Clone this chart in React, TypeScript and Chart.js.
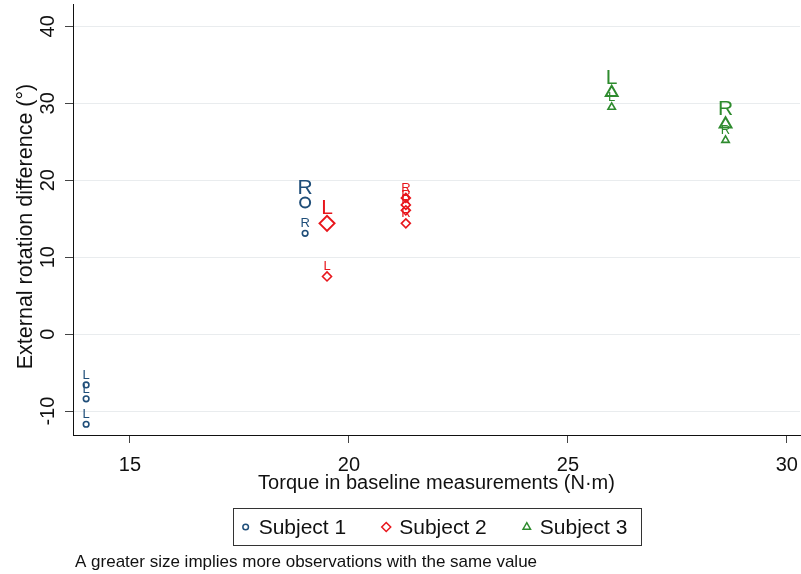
import React, { useEffect, useRef } from 'react';
import { Chart, registerables } from 'chart.js';

Chart.register(...registerables);

const seriesNames = ['Subject 1', 'Subject 2', 'Subject 3'];
const seriesColors = ['#1f4e79', '#e8161c', '#2e8b2e'];
const seriesShapes = ['circle', 'rectRot', 'triangle'];

const s1Torque = [14, 14, 14, 19, 19];
const s1Diff = [-6.6, -8.4, -11.7, 17.1, 13.1];
const s1Side = ['L', 'L', 'L', 'R', 'R'];
const s1Count = [1, 1, 1, 2, 1];

const s2Torque = [19.5, 19.5, 21.3, 21.3, 21.3, 21.3];
const s2Diff = [14.4, 7.5, 17.7, 16.8, 16.1, 14.4];
const s2Side = ['L', 'L', 'R', 'R', 'R', 'R'];
const s2Count = [2, 1, 1, 1, 1, 1];

const s3Torque = [26, 26, 28.6, 28.6];
const s3Diff = [31.4, 29.5, 27.3, 25.2];
const s3Side = ['L', 'L', 'R', 'R'];
const s3Count = [2, 1, 2, 1];

const xTicks = [15, 20, 25, 30];
const yTicks = [-10, 0, 10, 20, 30, 40];
const xTitle = 'Torque in baseline measurements (N·m)';
const yTitle = 'External rotation difference (°)';
const note = 'A greater size implies more observations with the same value';

const FONT = '"Liberation Sans", Arial, sans-serif';

const allTorque = [s1Torque, s2Torque, s3Torque];
const allDiff = [s1Diff, s2Diff, s3Diff];
const allSide = [s1Side, s2Side, s3Side];
const allCount = [s1Count, s2Count, s3Count];

const radii: Record<string, [number, number]> = {
  circle: [2.8, 5],
  rectRot: [4.5, 7.5],
  triangle: [4.3, 6.8],
};

function drawShape(ctx: CanvasRenderingContext2D, shape: string, x: number, y: number, r: number) {
  ctx.beginPath();
  if (shape === 'circle') {
    ctx.arc(x, y, r, 0, Math.PI * 2);
  } else if (shape === 'rectRot') {
    ctx.moveTo(x, y - r);
    ctx.lineTo(x + r, y);
    ctx.lineTo(x, y + r);
    ctx.lineTo(x - r, y);
    ctx.closePath();
  } else {
    const a = Math.PI / 6;
    ctx.moveTo(x, y - r);
    ctx.lineTo(x + r * Math.cos(a), y + r * Math.sin(a));
    ctx.lineTo(x - r * Math.cos(a), y + r * Math.sin(a));
    ctx.closePath();
  }
  ctx.stroke();
}

const markerLabelPlugin = {
  id: 'markerLabels',
  afterDatasetsDraw(chart: any) {
    const ctx = chart.ctx as CanvasRenderingContext2D;
    ctx.save();
    chart.data.datasets.forEach((_ds: any, i: number) => {
      const meta = chart.getDatasetMeta(i);
      meta.data.forEach((pt: any, j: number) => {
        const big = allCount[i][j] > 1;
        ctx.font = `${big ? 21 : 13}px ${FONT}`;
        ctx.fillStyle = seriesColors[i];
        ctx.textAlign = 'center';
        ctx.textBaseline = 'alphabetic';
        ctx.fillText(allSide[i][j], pt.x, pt.y - (big ? 9 : 6));
      });
    });
    ctx.restore();
  },
};

const yTitlePlugin = {
  id: 'yTitle',
  afterDraw(chart: any) {
    const ctx = chart.ctx as CanvasRenderingContext2D;
    const area = chart.chartArea;
    ctx.save();
    ctx.translate(26, (area.top + area.bottom) / 2 + 7);
    ctx.rotate(-Math.PI / 2);
    ctx.font = `21.5px ${FONT}`;
    ctx.fillStyle = '#111';
    ctx.textAlign = 'center';
    ctx.textBaseline = 'middle';
    ctx.fillText(yTitle, 0, 0);
    ctx.restore();
  },
};

const legendPlugin = {
  id: 'boxLegend',
  afterDraw(chart: any) {
    const ctx = chart.ctx as CanvasRenderingContext2D;
    const area = chart.chartArea;
    ctx.save();
    const fontSize = 21;
    ctx.font = `${fontSize}px ${FONT}`;
    const markerToText = 13;
    const itemGap = 40;
    const padX = 13;
    const widths = seriesNames.map((n) => ctx.measureText(n).width);
    let total = padX * 2;
    widths.forEach((w, i) => {
      total += markerToText + w;
      if (i < widths.length - 1) total += itemGap;
    });
    const boxLeft = (area.left + area.right) / 2 - total / 2;
    const boxTop = 508;
    const boxH = 37;
    ctx.strokeStyle = '#333';
    ctx.lineWidth = 1;
    ctx.strokeRect(Math.round(boxLeft) + 0.5, boxTop + 0.5, Math.round(total), boxH);
    const cy = boxTop + boxH / 2 + 0.5;
    let x = boxLeft + padX;
    seriesNames.forEach((n, i) => {
      ctx.strokeStyle = seriesColors[i];
      ctx.lineWidth = 1.5;
      drawShape(ctx, seriesShapes[i], x, cy, radii[seriesShapes[i]][0]);
      ctx.fillStyle = '#111';
      ctx.textAlign = 'left';
      ctx.textBaseline = 'middle';
      ctx.fillText(n, x + markerToText, cy + 1);
      x += markerToText + widths[i] + itemGap;
    });
    ctx.font = `17px ${FONT}`;
    ctx.fillStyle = '#111';
    ctx.textAlign = 'left';
    ctx.textBaseline = 'middle';
    ctx.fillText(note, 75, 562);
    ctx.restore();
  },
};

export default function App() {
  const ref = useRef<HTMLCanvasElement | null>(null);
  useEffect(() => {
    document.body.style.margin = '0';
    document.body.style.background = '#fff';
    if (!ref.current) return;
    const datasets = seriesNames.map((name, i) => ({
      label: name,
      data: allTorque[i].map((t, j) => ({ x: t, y: allDiff[i][j] })),
      pointStyle: seriesShapes[i] as any,
      pointRadius: allCount[i].map((c) => radii[seriesShapes[i]][c > 1 ? 1 : 0]),
      pointBorderWidth: allCount[i].map((c) => (c > 1 ? 2 : 1.6)),
      pointBorderColor: seriesColors[i],
      pointBackgroundColor: 'rgba(0,0,0,0)',
      borderColor: seriesColors[i],
      backgroundColor: 'rgba(0,0,0,0)',
      showLine: false,
    }));
    const chart = new Chart(ref.current, {
      type: 'scatter',
      data: { datasets },
      plugins: [markerLabelPlugin, yTitlePlugin, legendPlugin],
      options: {
        animation: false,
        responsive: false,
        events: [],
        layout: { autoPadding: false, padding: { top: 4, right: 1, bottom: 69, left: 0 } },
        plugins: { legend: { display: false }, tooltip: { enabled: false } },
        scales: {
          x: {
            type: 'linear',
            min: 13.7,
            max: 30.3,
            afterBuildTicks: (s: any) => {
              s.ticks = xTicks.map((v) => ({ value: v }));
            },
            afterFit: (s: any) => {
              s.height = 70;
              s.paddingLeft = 0;
              s.paddingRight = 0;
            },
            ticks: {
              autoSkip: false,
              maxRotation: 0,
              minRotation: 0,
              padding: 10,
              color: '#111',
              font: { family: FONT, size: 20 },
            },
            grid: {
              drawOnChartArea: false,
              drawTicks: true,
              tickLength: 8,
              tickColor: '#444',
            },
            border: { display: true, color: '#111', width: 1 },
            title: {
              display: true,
              text: xTitle,
              color: '#111',
              font: { family: FONT, size: 20 },
              padding: { top: 0, bottom: 10 },
            },
          },
          y: {
            type: 'linear',
            min: -13.1,
            max: 42.9,
            afterBuildTicks: (s: any) => {
              s.ticks = yTicks.map((v) => ({ value: v }));
            },
            afterFit: (s: any) => {
              s.width = 73;
              s.paddingTop = 0;
              s.paddingBottom = 0;
            },
            ticks: {
              autoSkip: false,
              minRotation: 90,
              maxRotation: 90,
              crossAlign: 'center',
              padding: 2,
              color: '#111',
              font: { family: FONT, size: 20 },
            },
            grid: {
              color: '#e9ecee',
              lineWidth: 1,
              drawTicks: true,
              tickLength: 8,
              tickColor: '#444',
            },
            border: { display: true, color: '#111', width: 1 },
            title: { display: false },
          },
        },
      },
    });
    return () => chart.destroy();
  }, []);
  return (
    <div style={{ width: 801, height: 574, background: '#fff' }}>
      <canvas ref={ref} width={801} height={574} />
    </div>
  );
}
